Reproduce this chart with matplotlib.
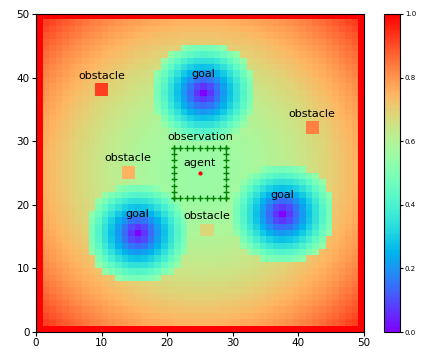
import numpy as np
import matplotlib
matplotlib.use("Agg")
import matplotlib.pyplot as plt

N = 50
# cell indices (lower-left corner of each cell)
goal_x = [25, 15, 37]
goal_y = [37, 15, 18]
goal_radius = 8.0
goal_edge_val = 0.55

obstacle_x = [9, 41, 13, 25]
obstacle_y = [37, 31, 24, 15]
obstacle_val = [0.92, 0.83, 0.75, 0.68]

bg_center_val = 0.55
bg_corner_val = 0.95
border_val = 1.0

agent_x, agent_y = 25, 25
obs_half = 4

# build the value grid
yy, xx = np.mgrid[0:N, 0:N]
r = np.hypot(xx - 24.5, yy - 24.5)
grid = bg_center_val + (bg_corner_val - bg_center_val) * (r / r.max()) ** 1.8
for gx, gy in zip(goal_x, goal_y):
    d = np.hypot(xx - gx, yy - gy)
    inside = d < goal_radius
    grid[inside] = np.minimum(grid[inside], goal_edge_val * d[inside] / goal_radius)
for ox, oy, v in zip(obstacle_x, obstacle_y, obstacle_val):
    grid[oy:oy + 2, ox:ox + 2] = v
grid[0, :] = grid[-1, :] = border_val
grid[:, 0] = grid[:, -1] = border_val

fig = plt.figure(figsize=(4.22, 3.49), dpi=100)
ax = fig.add_axes([0.0853, 0.0487, 0.7773, 0.9112])
cax = fig.add_axes([0.910, 0.0487, 0.038, 0.9112])

im = ax.imshow(grid, origin="lower", extent=(0, N, 0, N), cmap="rainbow",
               vmin=0, vmax=1, aspect="auto", interpolation="nearest")

# observation window
side = np.arange(agent_x - obs_half, agent_x + obs_half + 1)
px = np.concatenate([side, side, np.full(len(side), agent_x - obs_half), np.full(len(side), agent_x + obs_half)])
py = np.concatenate([np.full(len(side), agent_y + obs_half), np.full(len(side), agent_y - obs_half), side, side])
ax.plot(px, py, "+", color="green", markersize=4, markeredgewidth=1.0, linestyle="none")
ax.plot(agent_x, agent_y, "o", color="red", markersize=2)

fs = 8
for gx, gy in zip(goal_x, goal_y):
    ax.text(gx + 0.5, gy + 3.5, "goal", ha="center", va="center", fontsize=fs)
for ox, oy in zip(obstacle_x, obstacle_y):
    ax.text(ox + 1, oy + 3.3, "obstacle", ha="center", va="center", fontsize=fs)
ax.text(agent_x, agent_y + 5.6, "observation", ha="center", va="center", fontsize=fs)
ax.text(agent_x, agent_y + 1.6, "agent", ha="center", va="center", fontsize=fs)

ax.set_xlim(0, N)
ax.set_ylim(0, N)
ax.set_xticks(range(0, N + 1, 10))
ax.set_yticks(range(0, N + 1, 10))
ax.tick_params(labelsize=7.5, length=3, pad=1.5)

cb = fig.colorbar(im, cax=cax, ticks=np.linspace(0, 1, 6))
cb.ax.tick_params(labelsize=5, length=2, pad=1.5)

fig.savefig("out.png", dpi=100)
